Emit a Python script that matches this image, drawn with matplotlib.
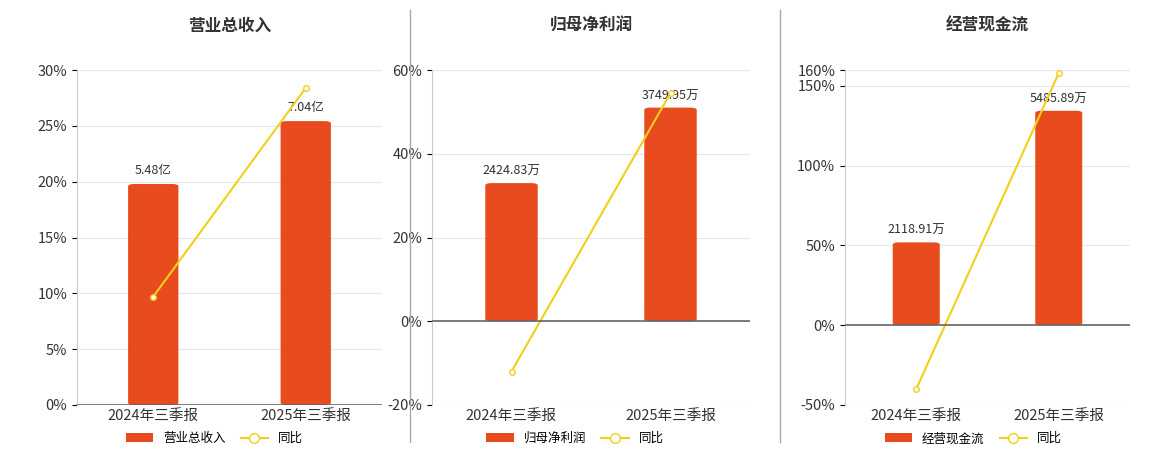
import matplotlib
matplotlib.use('Agg')
import matplotlib.pyplot as plt
from matplotlib.lines import Line2D
from matplotlib.patches import Patch, FancyBboxPatch

plt.rcParams['font.family'] = ['Noto Sans CJK SC', 'DejaVu Sans']

periods = ['2024年三季报', '2025年三季报']
titles = ['营业总收入', '归母净利润', '经营现金流']
bar_vals = [[5.48, 7.04], [2424.83, 3749.95], [2118.91, 5485.89]]
bar_labels = [['5.48亿', '7.04亿'], ['2424.83万', '3749.95万'], ['2118.91万', '5485.89万']]
yoy = [[9.7, 28.4], [-12.0, 54.5], [-40.0, 158.0]]
pct_ticks = [[0, 5, 10, 15, 20, 25, 30], [-20, 0, 20, 40, 60], [-50, 0, 50, 100, 150, 160]]
bar_scale = [1.18, 1.176, 1.19]

BAR = '#e84c1e'
LINE = '#f2cf1a'

fig = plt.figure(figsize=(11.6, 4.5), dpi=100)
rects = [(77, 305), (432, 318), (845, 285)]
for i in range(3):
    x0, w = rects[i]
    ax = fig.add_axes([x0 / 1160, 45 / 450, w / 1160, 335 / 450])
    lo, hi = pct_ticks[i][0], pct_ticks[i][-1]
    ax.set_ylim(lo, hi)
    # bars share the percent axis, scaled so the tallest bar sits below the top
    top = max(bar_vals[i]) * bar_scale[i]
    k = hi / top
    xs = [0, 1]
    for xv, v, lab in zip(xs, bar_vals[i], bar_labels[i]):
        bw = 0.33
        ax.add_patch(FancyBboxPatch((xv - bw / 2, 0), bw, v * k,
                                    boxstyle='round,pad=0,rounding_size=0.04',
                                    mutation_aspect=(hi - lo) / 2.0 * 0.35, fc=BAR, ec='none', zorder=3))
        ax.text(xv, v * k + hi * 0.02, lab, ha='center', va='bottom', fontsize=9, color='#333333', zorder=4)
    ax.plot(xs, yoy[i], color=LINE, lw=1.5, marker='o', ms=4, mfc='white', mec=LINE, zorder=5)
    ax.set_xlim(-0.5, 1.5)
    ax.set_yticks(pct_ticks[i])
    ax.set_yticklabels([f'{t}%' for t in pct_ticks[i]], fontsize=10.5, color='#333333')
    ax.grid(axis='y', color='#e6e6ee', lw=0.8, zorder=0)
    ax.set_axisbelow(True)
    for s in ['top', 'right', 'bottom']:
        ax.spines[s].set_visible(False)
    ax.spines['left'].set_color('#cccccc')
    ax.axhline(0, color='#666666', lw=1.2, zorder=6)
    ax.set_xticks(xs)
    ax.set_xticklabels(periods, fontsize=10.5, color='#333333')
    ax.tick_params(axis='x', length=0, pad=3)
    ax.set_title(titles[i], fontsize=12, fontweight='bold', pad=28, color='#333333')
    handles = [Patch(fc=BAR, ec='none'),
               Line2D([], [], color=LINE, marker='o', mfc='white', mec=LINE, lw=1.5, ms=7)]
    ax.legend(handles, [titles[i], '同比'], loc='upper center', bbox_to_anchor=(0.45, -0.055),
              ncol=2, frameon=False, fontsize=9, handlelength=2.2, columnspacing=1.2,
              borderpad=0.2)

for xsep in (410, 780):
    fig.add_artist(Line2D([xsep / 1160] * 2, [8 / 450, 440 / 450], color='#aaaaaa', lw=1))

fig.savefig('out.png')
